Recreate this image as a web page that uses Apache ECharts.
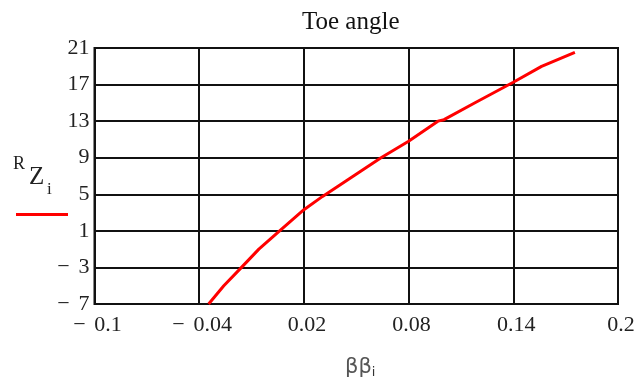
<!DOCTYPE html>
<html>
<head>
<meta charset="utf-8">
<script src="https://cdn.jsdelivr.net/npm/echarts@6/dist/echarts.min.js"></script>
<style>html,body{margin:0;padding:0;background:#fff}#c{width:638px;height:385px}</style>
</head>
<body>
<div id="c"></div>
<script>
// Data
const xValues = [-0.0346, -0.0259, -0.0163, -0.0058, 0.0051, 0.02, 0.0307, 0.0642, 0.08, 0.0968, 0.1003, 0.1178, 0.14, 0.1562, 0.1753];
const yValues = [-7, -5, -3.1, -1, 0.83, 3.31, 4.77, 9, 10.8, 13, 13.16, 14.98, 17.25, 18.99, 20.52];
const xTicks = [-0.1, -0.04, 0.02, 0.08, 0.14, 0.2];
const yTicks = [-7, -3, 1, 5, 9, 13, 17, 21];
const titleText = 'Toe angle';

const fmt = v => {
  const s = String(Math.round(v * 1000) / 1000);
  return s.charAt(0) === '-' ? '\u2212\u2009\u2009' + s.slice(1) : s;
};

const chart = echarts.init(document.getElementById('c'), null, {renderer: 'canvas'});
const serif = '"Liberation Serif", "DejaVu Serif", serif';
chart.setOption({
  animation: false,
  backgroundColor: '#fff',
  title: {
    text: titleText, left: 297, top: 5,
    textStyle: {fontFamily: serif, fontSize: 25, fontWeight: 'normal', color: '#111'}
  },
  legend: {
    left: 11, top: 208, itemWidth: 52, itemHeight: 3, itemGap: 0, icon: 'rect',
    formatter: () => '', data: ['RZi'], selectedMode: false
  },
  grid: {left: 94.5, right: 20, top: 48, bottom: 81, show: true, borderColor: '#111', borderWidth: 2, outerBoundsMode: 'none'},
  xAxis: {
    type: 'value', min: xTicks[0], max: xTicks[xTicks.length - 1], interval: 0.06,
    axisLine: {show: false}, axisTick: {show: false},
    splitLine: {show: true, lineStyle: {color: '#111', width: 2}},
    axisLabel: {formatter: fmt, fontFamily: serif, fontSize: 22, color: '#222', margin: 10, padding: [0, 0, 0, 6]},
    name: '{a|\u03b2\u03b2}{b|i}', nameLocation: 'middle', nameGap: 52,
    nameTextStyle: {padding: [0, 0, 0, 8], rich: {
      a: {fontFamily: '"DejaVu Sans", sans-serif', fontSize: 21, color: '#555'},
      b: {fontFamily: '"DejaVu Sans", sans-serif', fontSize: 13, color: '#333', verticalAlign: 'bottom', padding: [10, 0, 0, 0]}
    }}
  },
  yAxis: {
    type: 'value', min: yTicks[0], max: yTicks[yTicks.length - 1], interval: 4,
    axisLine: {show: false}, axisTick: {show: false},
    splitLine: {show: true, lineStyle: {color: '#111', width: 2}},
    axisLabel: {formatter: fmt, fontFamily: serif, fontSize: 22, color: '#222', margin: 5, padding: [6, 0, 0, 0]}
  },
  graphic: [
    {type: 'text', left: 13, top: 155, style: {text: 'R', font: '18px ' + serif, fill: '#222'}},
    {type: 'text', left: 29, top: 165, style: {text: 'Z', font: '25px ' + serif, fill: '#222'}},
    {type: 'text', left: 47, top: 181, style: {text: 'i', font: '17px ' + serif, fill: '#222'}}
  ],
  series: [{
    name: 'RZi', type: 'line', symbol: 'none',
    data: xValues.map((x, i) => [x, yValues[i]]),
    lineStyle: {color: '#ff0000', width: 3},
    itemStyle: {color: '#ff0000'}
  }]
});
</script>
</body>
</html>
